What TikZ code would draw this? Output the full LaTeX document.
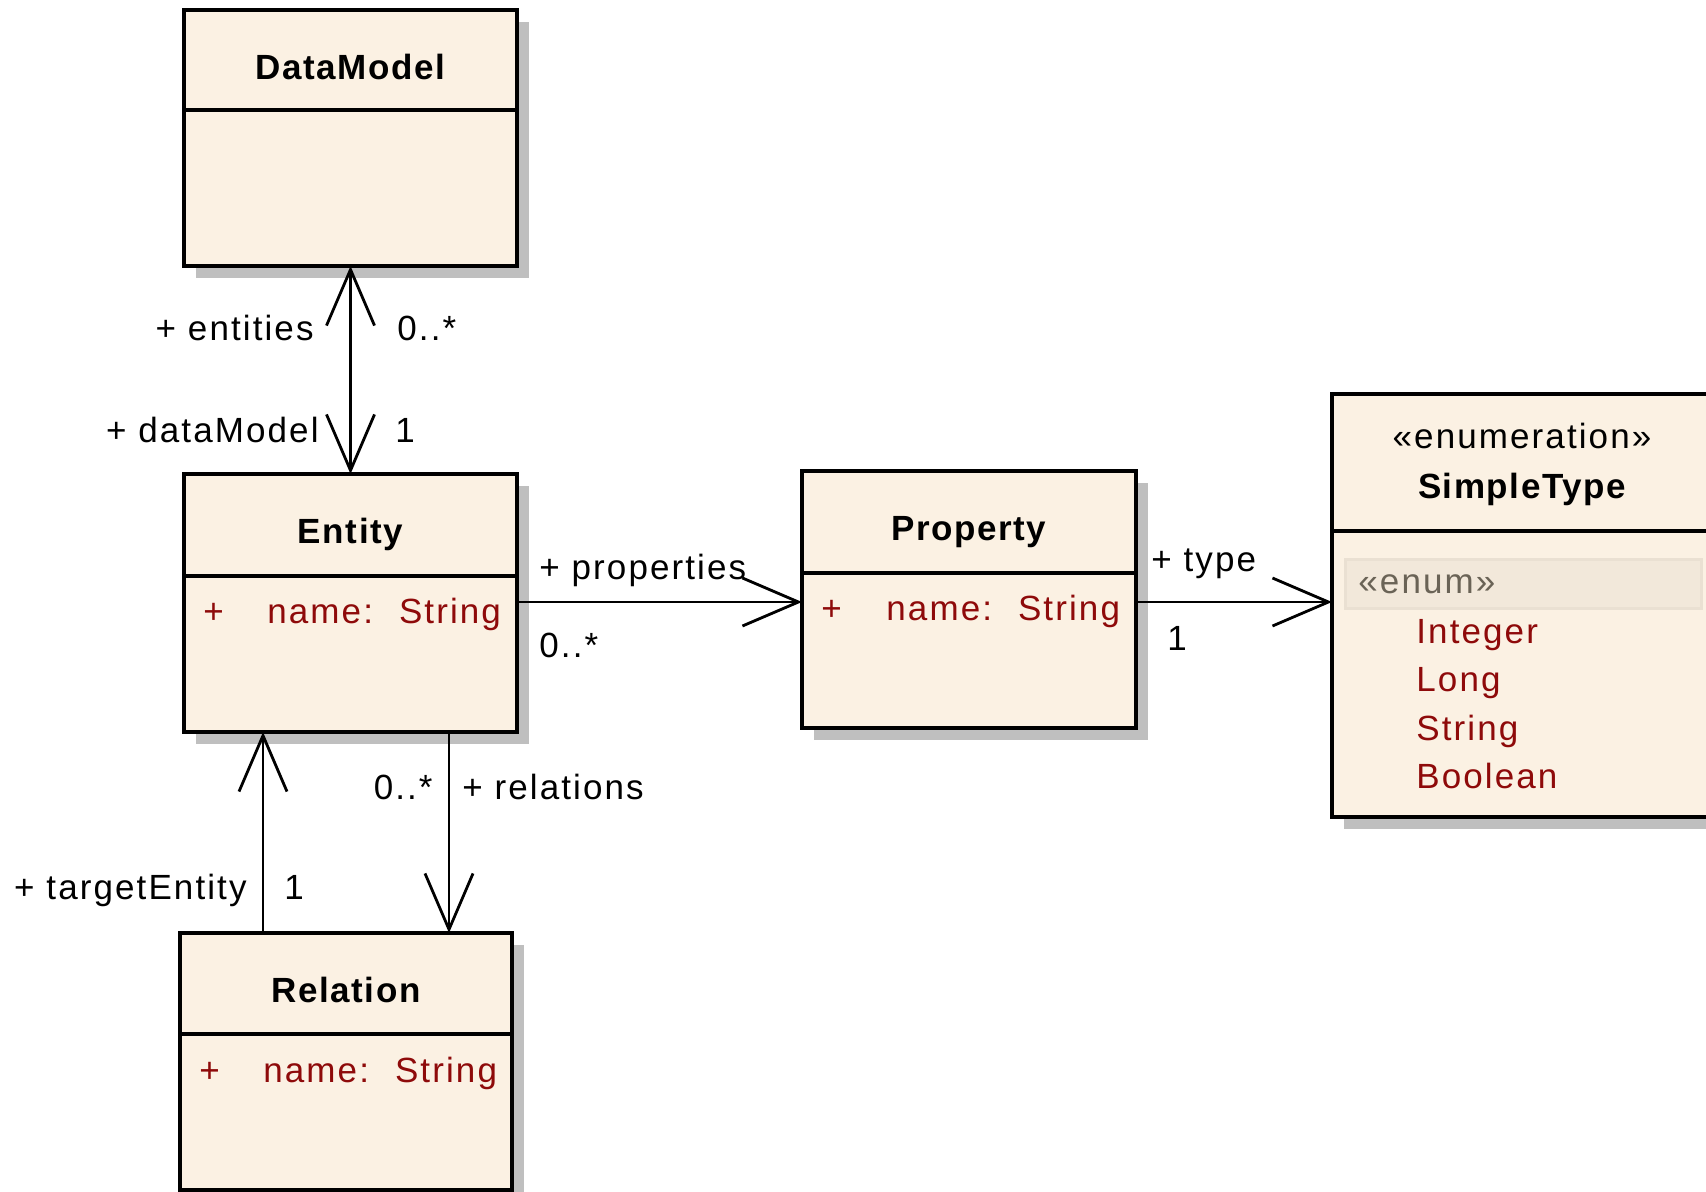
\documentclass[tikz,border=0pt]{standalone}
\usepackage{fontspec}
\setmainfont{Liberation Sans}[LetterSpace=6, BoldFeatures={LetterSpace=4.5}]
\usepackage{xcolor}
\usetikzlibrary{arrows.meta,shadows}

\definecolor{classfill}{HTML}{FBF1E3}
\definecolor{attrred}{HTML}{8E0A0A}
\definecolor{enumband}{HTML}{F2E8DA}
\definecolor{enumedge}{HTML}{EAE0D2}
\definecolor{enumgray}{HTML}{6A6356}

\begin{document}
\begin{tikzpicture}[x=0.5pt, y=-0.5pt, font=\fontsize{17.5pt}{20pt}\selectfont,
    cls/.style={draw, line width=1.7pt, fill=classfill, inner sep=0pt, outer sep=0pt,
        drop shadow={shadow xshift=6pt, shadow yshift=-6pt, fill=black!25, opacity=1}},
    sep/.style={line width=1.7pt},
    title/.style={anchor=base, inner sep=0pt, font=\fontsize{17.5pt}{20pt}\selectfont\bfseries},
    attr/.style={anchor=base west, inner sep=0pt, text=attrred},
    lbl/.style={inner sep=0pt},
    assoc/.style={line width=1.4pt, -{Straight Barb[length=28pt, width=24pt]}},
    biassoc/.style={line width=1.4pt, {Straight Barb[length=28pt, width=24pt]}-{Straight Barb[length=28pt, width=24pt]}}]
    \useasboundingbox (0,0) rectangle (1706,1192);
    \clip (0,0) rectangle (1706,1192);

    % classes
    \node[cls, minimum width=166.5pt, minimum height=128pt] (dm) at (350.5,138) {};
    \node[cls, minimum width=166.5pt, minimum height=129pt] (ent) at (350.5,603) {};
    \node[cls, minimum width=167pt, minimum height=128.5pt] (prop) at (969,599.5) {};
    \node[cls, minimum width=194pt, minimum height=211.5pt] (st) at (1526,605.5) {};
    \node[cls, minimum width=166pt, minimum height=128.5pt] (rel) at (346,1061.5) {};

    \draw[sep] ([yshift=-50pt]dm.north west) -- ([yshift=-50pt]dm.north east);
    \draw[sep] ([yshift=-51pt]ent.north west) -- ([yshift=-51pt]ent.north east);
    \draw[sep] ([yshift=-51pt]prop.north west) -- ([yshift=-51pt]prop.north east);
    \draw[sep] ([yshift=-68.5pt]st.north west) -- ([yshift=-68.5pt]st.north east);
    \draw[sep] ([yshift=-50.5pt]rel.north west) -- ([yshift=-50.5pt]rel.north east);

    \node[title] (dmname) at ([yshift=-35pt]dm.north) {DataModel};
    \node[title] (entname) at ([yshift=-34.5pt]ent.north) {Entity};
    \node[title] (propname) at ([yshift=-34.5pt]prop.north) {Property};
    \node[title] (relname) at ([yshift=-34.5pt]rel.north) {Relation};

    % attributes
    \node[attr] (entvis) at (203,623) {+};
    \node[attr] (entattr) at (267,623) {name:\hspace{13pt}String};
    \node[attr] (propvis) at (821,620) {+};
    \node[attr] (propattr) at (886,620) {name:\hspace{13pt}String};
    \node[attr] (relvis) at (199,1082) {+};
    \node[attr] (relattr) at (263,1082) {name:\hspace{13pt}String};

    % enumeration
    \node[lbl, anchor=base] (ststereo) at (1522,448) {«enumeration»};
    \node[title] (stname) at (1522,498) {SimpleType};
    \draw[line width=1.5pt, draw=enumedge, fill=enumband] (1345,559) rectangle (1701,608);
    \node[lbl, anchor=base west, text=enumgray] (enumtag) at (1358,593) {«enum»};
    \node[attr] (litint) at (1416,643) {Integer};
    \node[attr] (litlong) at (1416,691) {Long};
    \node[attr] (litstr) at (1416,740) {String};
    \node[attr] (litbool) at (1416,788) {Boolean};

    % associations
    \draw[biassoc] (dm.south) -- (ent.north);
    \draw[assoc] ([yshift=0.5pt]ent.east) -- ([yshift=0.5pt]ent.east -| prop.west);
    \draw[assoc] ([yshift=-1.25pt]prop.east) -- ([yshift=-1.25pt]prop.east -| st.west);
    \draw[assoc] ([xshift=49.25pt]ent.south) -- ([xshift=49.25pt]ent.south |- rel.north);
    \draw[assoc] ([xshift=-41.5pt]rel.north) -- ([xshift=-41.5pt]rel.north |- ent.south);

    % role names and multiplicities
    \node[lbl, anchor=base east] (rentities) at (314,341) {+ entities};
    \node[lbl, anchor=base west] (mentities) at (397,341) {0..*};
    \node[lbl, anchor=base east] (rdatamodel) at (319,442) {+ dataModel};
    \node[lbl, anchor=base west] (mdatamodel) at (395,442) {1};
    \node[lbl, anchor=base west] (rproperties) at (539,579) {+ properties};
    \node[lbl, anchor=base west] (mproperties) at (539,657) {0..*};
    \node[lbl, anchor=base west] (rtype) at (1151,571) {+ type};
    \node[lbl, anchor=base west] (mtype) at (1167,650) {1};
    \node[lbl, anchor=base east] (mrelations) at (433,799) {0..*};
    \node[lbl, anchor=base west] (rrelations) at (462,799) {+ relations};
    \node[lbl, anchor=base east] (rtarget) at (247,899) {+ targetEntity};
    \node[lbl, anchor=base west] (mtarget) at (284,899) {1};
\end{tikzpicture}
\end{document}
